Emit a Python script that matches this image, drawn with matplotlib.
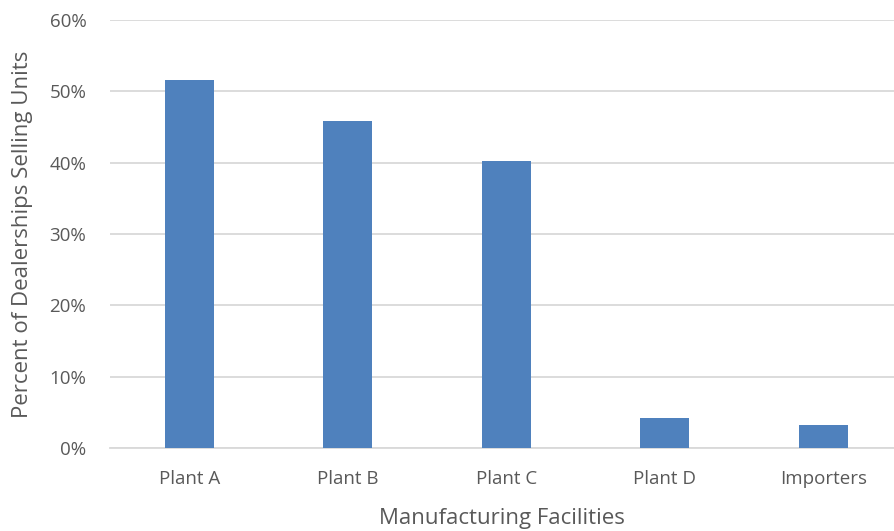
import matplotlib.pyplot as plt
from matplotlib.ticker import FuncFormatter

categories = ['Plant A', 'Plant B', 'Plant C', 'Plant D', 'Importers']
percents = [51.6, 45.9, 40.2, 4.2, 3.2]

plt.rcParams['font.family'] = ['Open Sans', 'DejaVu Sans']

fig = plt.figure(figsize=(8.94, 5.31), dpi=100)
ax = fig.add_axes([0.123, 0.1563, 0.877, 0.806])

x = range(len(categories))
ax.bar(x, percents, width=0.31, color='#4f81bd', zorder=3)

ax.set_ylim(0, 60)
ax.set_yticks(range(0, 61, 10))
ax.yaxis.set_major_formatter(FuncFormatter(lambda v, p: '%d%%' % v))
ax.set_xlim(-0.5, 4.445)
ax.set_xticks(list(x))
ax.set_xticklabels(categories)

ax.grid(axis='y', color='#d9d9d9', linewidth=1.3, zorder=0)
for s in ['top', 'right', 'left']:
    ax.spines[s].set_visible(False)
ax.spines['bottom'].set_color('#d9d9d9')
ax.spines['bottom'].set_linewidth(1.3)
ax.tick_params(length=0, labelsize=13.5, colors='#595959')
ax.tick_params(axis='y', pad=17)
ax.tick_params(axis='x', pad=16)

ax.set_xlabel('Manufacturing Facilities', fontsize=16, color='#595959', labelpad=14)
ax.set_ylabel('Percent of Dealerships Selling Units', fontsize=16, color='#595959', labelpad=12)

plt.savefig('out.png', dpi=100)
